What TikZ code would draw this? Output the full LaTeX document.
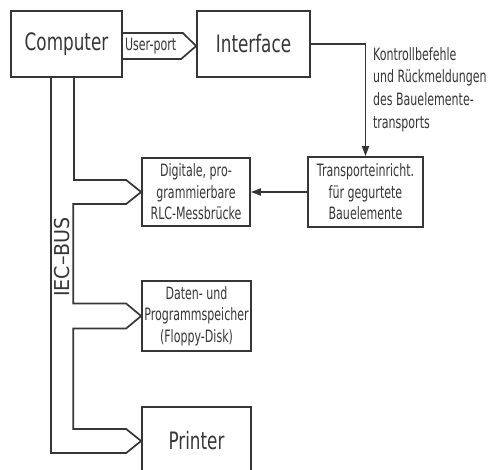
\documentclass[tikz,border=0pt]{standalone}
\usepackage{fontspec}
\setmainfont{DejaVu Sans}[FakeStretch=0.65]
\newfontfamily\bigfont{DejaVu Sans}[FakeStretch=0.7]
\newfontfamily\busfont{DejaVu Sans}[FakeStretch=0.93]
\usetikzlibrary{arrows.meta, positioning}
\definecolor{ink}{HTML}{363636}
\tikzset{
    block/.style={draw=ink, line width=1.7pt, text=ink, inner sep=1pt, align=center},
    bigblock/.style={block, font=\bigfont\fontsize{24}{28}\selectfont},
    smallblock/.style={block, font=\fontsize{17}{21.5}\selectfont},
    smalltext/.style={text=ink, inner sep=0pt, font=\fontsize{17}{22.7}\selectfont},
    line/.style={draw=ink, line width=1.7pt},
    arrowline/.style={line, -{Triangle[length=10pt,width=7pt]}}
}

\begin{document}
\begin{tikzpicture}[x=1pt,y=1pt]
    \useasboundingbox (0,0) rectangle (504,470);

    % Draw boxes
    \node[bigblock, minimum width=111pt, minimum height=66pt] (computer) at (66.5,426) {Computer};
    \node[bigblock, minimum width=113pt, minimum height=66pt] (interface) at (253.5,426) {Interface};
    \node[smallblock, minimum width=115pt, minimum height=70pt] (transport) at (365.5,278)
        {Transporteinricht.\\für gegurtete\\Bauelemente};
    \node[smallblock, minimum width=108pt, minimum height=68pt] (digitale) at (196,278)
        {Digitale, pro-\\grammierbare\\RLC-Messbrücke};
    \node[smallblock, minimum width=109pt, minimum height=70pt] (daten) at (196.5,154)
        {Daten- und\\Programmspeicher\\(Floppy-Disk)};
    \node[bigblock, minimum width=109pt, minimum height=68pt] (printer) at (196.5,29) {Printer};

    % User-port
    \draw[line] ([yshift=11pt]computer.east) -- ++(60,0) -- ([yshift=-2pt]interface.west)
        -- ++(-15,-13) -- ([yshift=-15pt]computer.east);
    \node[smalltext, right=2pt of computer.east, yshift=-2pt] (userport) {User-port};

    % Control line to transport
    \draw[arrowline] (interface.east) -| (transport.north);
    \node[smalltext, align=left, anchor=north west] (control) at ([xshift=62pt, yshift=-3pt]interface.east)
        {Kontrollbefehle\\und Rückmeldungen\\des Bauelemente-\\transports};
    \draw[arrowline] (transport.west) -- (digitale.east);

    % IEC bus
    \draw[line] ([xshift=7.5pt]computer.south)
        |- ([shift={(-15pt,12pt)}]digitale.west) -- (digitale.west) -- ++(-15,-12)
        -| ([shift={(-68pt,12.5pt)}]daten.west) -- ([shift={(-15pt,12.5pt)}]daten.west)
        -- (daten.west) -- ++(-15,-12.5)
        -| ([shift={(-68pt,12pt)}]printer.west) -- ([shift={(-15pt,12pt)}]printer.west)
        -- (printer.west);
    \draw[line] ([xshift=-15.5pt]computer.south)
        |- ([shift={(-15pt,-12pt)}]printer.west) -- (printer.west);
    \node[text=ink, rotate=90, inner sep=0pt, font=\busfont\fontsize{20.5}{24}\selectfont] (buslabel)
        at (62.5,213) {IEC–BUS};
\end{tikzpicture}
\end{document}
